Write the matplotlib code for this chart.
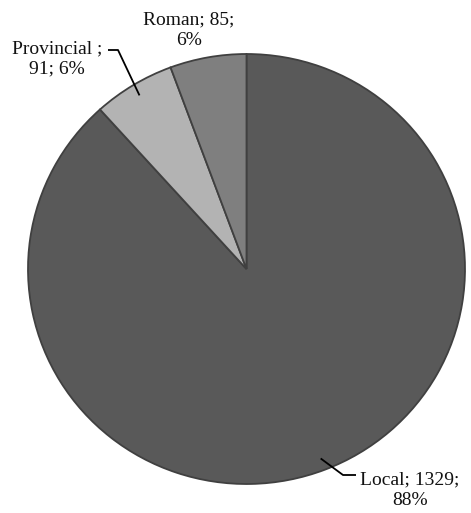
import numpy as np
import matplotlib.pyplot as plt

# Sources of the finds
labels = ['Local', 'Provincial ', 'Roman']
counts = [1329, 91, 85]
colors = ['#595959', '#b3b3b3', '#7f7f7f']

W, H = 471, 513
fig = plt.figure(figsize=(W / 100, H / 100), dpi=100)

# pie extent in pixels (measured from the top-left corner)
cx, cy, rx, ry = 246.5, 269, 218.5, 215
pie_ax = fig.add_axes([(cx - rx) / W, 1 - (cy + ry) / H, 2 * rx / W, 2 * ry / H])
wedges, _ = pie_ax.pie(counts, colors=colors, startangle=90, counterclock=False,
                       wedgeprops=dict(edgecolor='#404040', linewidth=1.3))
pie_ax.set_aspect('auto')
pie_ax.set_xlim(-1, 1)
pie_ax.set_ylim(-1, 1)
pie_ax.axis('off')

# overlay in pixel coordinates for labels and leader lines
ax = fig.add_axes([0, 0, 1, 1])
ax.set_xlim(0, W)
ax.set_ylim(H, 0)
ax.axis('off')
ax.patch.set_alpha(0)

total = sum(counts)
font = dict(family='Liberation Serif', size=14, color='#111111')

text_pos = [(410, 490), (57, 59), (189, 30)]
elbows = [((343, 475), (356, 475)), ((118, 50), (108, 50)), None]

for w, lab, n, (tx, ty), elb in zip(wedges, labels, counts, text_pos, elbows):
    pct = round(100 * n / total)
    if lab.strip() == 'Provincial':
        txt = f'{lab};\n{n}; {pct}%'
    else:
        txt = f'{lab}; {n};\n{pct}%'
    ax.text(tx, ty, txt, ha='center', va='center', linespacing=1.25, **font)
    if elb is not None:
        mid = np.deg2rad((w.theta1 + w.theta2) / 2)
        ex = cx + (rx - 12) * np.cos(mid)
        ey = cy - (ry - 12) * np.sin(mid)
        (x1, y1), (x2, y2) = elb
        ax.plot([ex, x1, x2], [ey, y1, y2], color='black', lw=1.3,
                solid_capstyle='butt')

fig.savefig('out.png', dpi=100)
